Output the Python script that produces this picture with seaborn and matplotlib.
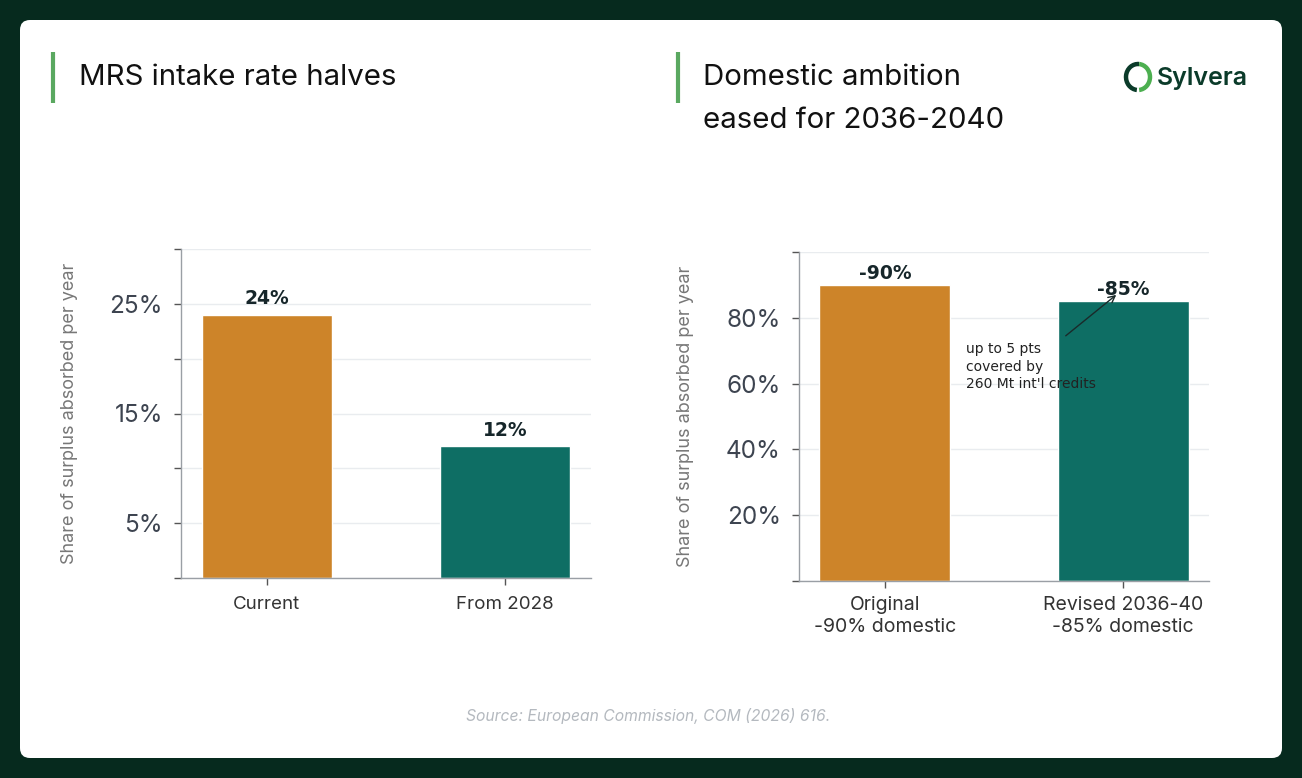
import matplotlib
matplotlib.use('Agg')
import matplotlib.pyplot as plt
import seaborn as sns
from matplotlib.patches import FancyBboxPatch, Arc

# data
left_cats = ['Current', 'From 2028']
left_vals = [24, 12]
left_labels = ['24%', '12%']
right_cats = ['Original\n-90% domestic', 'Revised 2036-40\n-85% domestic']
right_vals = [90, 85]
right_labels = ['-90%', '-85%']
bar_colors = ['#CD8429', '#0E6E64']

W, H = 1302, 778
DARK = '#062a1e'
TICK_C = '#3d4450'
GRID_C = '#e9ecef'
SPINE_C = '#9a9fa5'

sns.set_theme(style='white')
plt.rcParams['font.family'] = ['Inter', 'DejaVu Sans']

fig = plt.figure(figsize=(W / 100, H / 100), dpi=100, facecolor=DARK)

# decorative layer in pixel coordinates
bg = fig.add_axes([0, 0, 1, 1], zorder=-5)
bg.set_xlim(0, W)
bg.set_ylim(H, 0)
bg.axis('off')
bg.add_patch(FancyBboxPatch((20, 20), W - 40, H - 40, boxstyle='round,pad=0,rounding_size=10',
                            fc='white', ec='none'))
for x0 in (53, 678):
    bg.plot([x0, x0], [52, 103], color='#5aa860', lw=3, solid_capstyle='butt')
bg.text(79, 77, 'MRS intake rate halves', fontsize=21.2, color='#111', va='center', ha='left')
bg.text(703, 77, 'Domestic ambition', fontsize=21.2, color='#111', va='center', ha='left')
bg.text(703, 120, 'eased for 2036-2040', fontsize=21.2, color='#111', va='center', ha='left')
# logo
bg.add_patch(Arc((1138, 77), 24, 26, theta1=95, theta2=275, color='#0b3b2a', lw=3.2))
bg.add_patch(Arc((1138, 77), 24, 26, theta1=-85, theta2=85, color='#4caf50', lw=3.2))
bg.text(1157, 78, 'Sylvera', fontsize=18, fontweight='semibold', color='#0b3b2a', va='center', ha='left')
bg.text(648, 716, 'Source: European Commission, COM (2026) 616.', fontsize=11.3, color='#b4b9bf',
        style='italic', ha='center', va='center')


def style_axes(ax, ymax, step, shown):
    ax.set_facecolor('white')
    ticks = list(range(0, ymax + 1, step))
    ax.set_yticks(ticks)
    ax.set_yticklabels([f'{t}%' if t in shown else '' for t in ticks], fontsize=17.5, color=TICK_C)
    ax.set_ylim(0, ymax)
    ax.set_xlim(-0.36, 1.36)
    ax.yaxis.grid(True, color=GRID_C, lw=1)
    ax.set_axisbelow(True)
    for s in ('top', 'right'):
        ax.spines[s].set_visible(False)
    for s in ('left', 'bottom'):
        ax.spines[s].set_color(SPINE_C)
        ax.spines[s].set_linewidth(1)
    ax.tick_params(axis='both', which='major', length=5, width=1, color='#555', direction='out',
                   left=True, bottom=True)
    ax.tick_params(axis='y', pad=8)
    ax.tick_params(axis='x', labelsize=13.5, labelcolor='#333', pad=8)
    ax.set_xlabel('')
    ax.set_ylabel('Share of surplus absorbed per year', fontsize=13, color='#777', labelpad=23)


ax1 = fig.add_axes([181 / W, 1 - 578 / H, 410 / W, 329 / H])
sns.barplot(x=left_cats, y=left_vals, hue=left_cats, palette=bar_colors, width=0.545,
            saturation=1, legend=False, ax=ax1)
style_axes(ax1, 30, 5, (5, 15, 25))
for i, (v, lab) in enumerate(zip(left_vals, left_labels)):
    ax1.text(i, v + 0.6, lab, ha='center', va='bottom', fontsize=13.5, fontweight='bold',
             color='#16262a', family='DejaVu Sans')

ax2 = fig.add_axes([799 / W, 1 - 581 / H, 410 / W, 329 / H])
sns.barplot(x=right_cats, y=right_vals, hue=right_cats, palette=bar_colors, width=0.55,
            saturation=1, legend=False, ax=ax2)
style_axes(ax2, 100, 20, (20, 40, 60, 80))
ax2.tick_params(axis='x', labelsize=14, pad=6)
for lab in ax2.get_xticklabels():
    lab.set_linespacing(1.3)
for i, (v, lab) in enumerate(zip(right_vals, right_labels)):
    ax2.text(i, v + 0.7, lab, ha='center', va='bottom', fontsize=13.5, fontweight='bold',
             color='#16262a', family='DejaVu Sans')
ax2.annotate('', xy=(0.98, 87.5), xytext=(0.75, 74),
             arrowprops=dict(arrowstyle='->', color='#1a2a2a', lw=1))
ax2.text(0.34, 72.5, "up to 5 pts\ncovered by\n260 Mt int'l credits", fontsize=10,
         color='#222', va='top', ha='left', family='DejaVu Sans', linespacing=1.3)

fig.savefig('out.png', dpi=100, facecolor=DARK)
